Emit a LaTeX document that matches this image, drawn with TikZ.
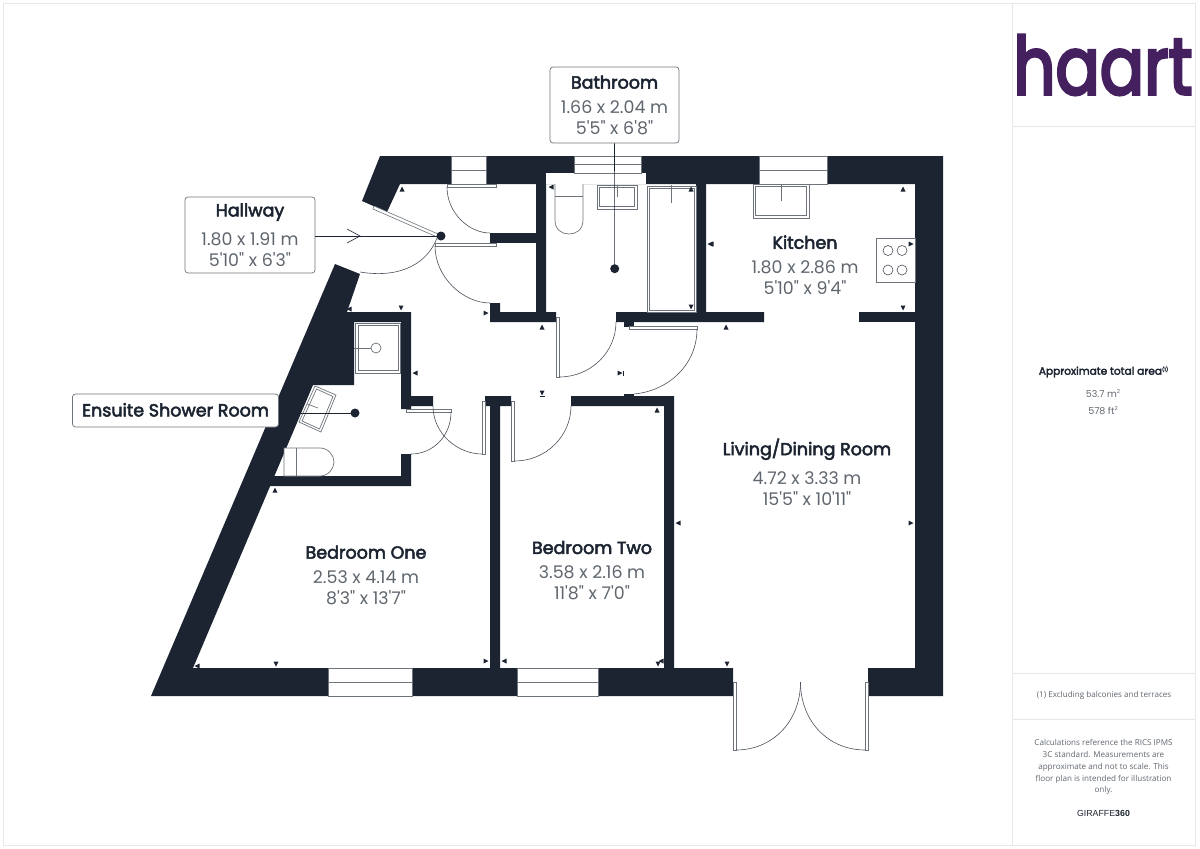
\documentclass[tikz,border=0pt]{standalone}
\usepackage{fontspec}
\usepackage{tikz}
\setmainfont{Open Sans}
\newfontfamily\titlefont{Poppins}[FakeBold=3]
\newfontfamily\sizefont{Poppins}
\newfontfamily\logofont{Poppins}[FakeBold=4]
\newfontfamily\brandfont{Liberation Sans}
\definecolor{wallcol}{HTML}{1B2430}
\definecolor{edgecol}{HTML}{6E747B}
\definecolor{sizecol}{HTML}{5F666E}
\definecolor{panelcol}{HTML}{E8E8E8}
\definecolor{logocol}{HTML}{45205F}
\tikzset{
  wall/.style={fill=wallcol},
  window/.style={fill=white,draw=edgecol,line width=.6},
  fixture/.style={fill=white,draw=edgecol,line width=.7},
  leaf/.style={fill=white,draw=edgecol,line width=.6},
  swing/.style={draw=wallcol!80,line width=.6},
  leader/.style={draw=wallcol,line width=.6},
  labelbox/.style={draw=edgecol,fill=white,rounded corners=3,line width=.7,inner sep=0,align=center},
  roomlabel/.style={align=center,inner sep=0},
  paneltext/.style={align=center,inner sep=0,text=sizecol}
}
\newcommand{\roomname}{\titlefont\fontsize{17.5}{20}\selectfont\color{wallcol}}
\newcommand{\roomsize}{\sizefont\fontsize{17.4}{20}\selectfont\color{sizecol}}
\newcommand{\roomtext}[3]{\roomname #1\\[10.5pt]\roomsize #2\\[6pt]\roomsize #3}
\begin{document}
\begin{tikzpicture}[x=1pt,y=-1pt]
\useasboundingbox (0,0) rectangle (1200,849);

% side panel
\draw[panelcol,line width=1] (3,3) rectangle (1195,845);
\draw[panelcol,line width=1] (1012,3) -- (1012,845);
\draw[panelcol,line width=1] (1012,126) -- (1195,126);
\draw[panelcol,line width=1] (1012,673) -- (1195,673);
\draw[panelcol,line width=1] (1012,719) -- (1195,719);

% walls
\fill[wall] (380,156) -- (943,156) -- (943,696) -- (868,696) -- (868,668) -- (915,668) -- (915,184) -- (400,184) -- (387,212) -- (362,201) -- cycle;
\fill[wall] (335,264) -- (360,274) -- (347,312) -- (411,312) -- (411,396) -- (433,396) -- (433,406) -- (411,406) -- (411,409) -- (401,409) -- (401,322) -- (354,322) -- (354,385) -- (313,385) -- (193,668) -- (733,668) -- (733,696) -- (151,696) -- cycle;
\fill[wall] (265,476) -- (401,476) -- (401,454) -- (411,454) -- (411,486) -- (265,486) -- cycle;
\fill[wall] (485,396) -- (511,396) -- (511,406) -- (500,406) -- (500,668) -- (490,668) -- (490,406) -- (485,406) -- cycle;
\fill[wall] (571,396) -- (674,396) -- (674,668) -- (664,668) -- (664,406) -- (571,406) -- cycle;
\fill[wall] (490,303) -- (500,303) -- (500,312) -- (536,312) -- (536,184) -- (546,184) -- (546,312) -- (556,312) -- (556,322) -- (490,322) -- cycle;
\fill[wall] (490,233) rectangle (536,243);
\fill[wall] (616,312) -- (696,312) -- (696,184) -- (706,184) -- (706,312) -- (764,312) -- (764,322) -- (616,322) -- cycle;
\fill[wall] (859,312) rectangle (915,322);
\fill[wall] (624,322) rectangle (634,327);
\fill[wall] (624,394) rectangle (634,396);
\fill[white] (546,173) rectangle (646,184);

% windows
\foreach \xa/\xb/\ya/\yb in {451/486/156/184,574/641/156/173,759/827/156/184,328/412/668/696,517/598/668/696}{
  \draw[window] (\xa,\ya) rectangle (\xb,\yb);
  \draw[window] (\xa,{(\ya+\yb)/2}) -- (\xb,{(\ya+\yb)/2});
}

% door leaves and swings
\draw[leaf] (374,206) -- (438,234) -- (437,237) -- (373,209) -- cycle;
\draw[swing] (437,238) .. controls (428,262) and (402,279) .. (360,272);
\draw[leaf] (447,184) rectangle (496,187);
\draw[swing] (447,187) .. controls (447,213) and (469,233) .. (490,233);
\draw[leaf] (435,243) rectangle (496,246);
\draw[swing] (435,246) .. controls (435,277) and (463,303) .. (490,303);
\draw[leaf] (406,409) rectangle (451,412);
\draw[swing] (451,412) .. controls (451,436) and (433,454) .. (411,454);
\draw[leaf] (482,401) rectangle (485,454);
\draw[swing] (433,406) .. controls (433,434) and (458,454) .. (482,454);
\draw[leaf] (511.5,401) rectangle (514.7,461);
\draw[swing] (514.7,461) .. controls (546,461) and (571,436) .. (571,406);
\draw[leaf] (556,317) rectangle (559,377);
\draw[swing] (559,377) .. controls (591,377) and (616,352) .. (616,322);
\draw[leaf] (629,326) rectangle (697,329);
\draw[swing] (697,329) .. controls (697,365) and (668,391) .. (634,394);
\draw[leaf] (733,682) rectangle (736,750);
\draw[swing] (736,750) .. controls (772,750) and (800.5,722) .. (800.5,682);
\draw[leaf] (865,682) rectangle (868,750);
\draw[swing] (865,750) .. controls (829,750) and (800.5,722) .. (800.5,682);

% bathroom fittings
\draw[fixture] (555,184) -- (555,220) .. controls (555,230) and (562,234) .. (569,234) .. controls (576,234) and (583,230) .. (583,220) -- (583,184);
\draw[fixture] (555,196) -- (583,196);
\draw[fixture] (597,185) rectangle (637,209);
\draw[fixture] (599.5,187.5) rectangle (634.5,206.5);
\draw[fixture] (617.5,185) -- (617.5,197);
\draw[fixture] (647,186) rectangle (696,312);
\draw[fixture] (649,188) rectangle (694,310);
\draw[fixture] (671,185) -- (671,203);

% kitchen fittings
\draw[fixture] (753,184) rectangle (809,218);
\draw[fixture] (755.5,186.5) rectangle (806.5,215.5);
\draw[fixture] (781,184) -- (781,201);
\draw[fixture] (876,238) rectangle (915,282);
\foreach \cx in {888,902}{
  \foreach \cy in {250.5,270}{
    \draw[wallcol!80,line width=.6] (\cx,\cy) circle (5);
  }
}

% ensuite fittings
\draw[fixture] (355.5,323) rectangle (400.5,373);
\draw[fixture] (358,325.5) rectangle (398,370.5);
\draw[fixture] (376,348) circle (5);
\draw[fixture] (354,348) -- (371,348);
\draw[fixture] (315,386) -- (336,395) -- (321,432) -- (299,422) -- cycle;
\draw[fixture] (316.5,389) -- (333,396.5) -- (319.5,429) -- (302,421) -- cycle;
\draw[fixture] (307,404) -- (318,408);
\draw[fixture] (284,448) -- (320,448) .. controls (328,448) and (334,455) .. (334,462) .. controls (334,469) and (328,476) .. (320,476) -- (284,476) -- cycle;
\draw[fixture] (296,448) -- (296,476);

% small dimension marks
\foreach \px/\py/\ang in {402/189/90,349/309/180,401/308/270,415/373/180,551/187/180,691/189/90,691/307/270,711/244/180,486/313/0,542/327/90,726/327/90,903/189/90,710/244/180,911/244/0,903/308/270,620/373/0,542/393/270,657/410/90,275/490/90,197/666/180,276/664/270,486/661/0,504/661/180,658/664/270,661/661/180,727/664/270,678/523/180,911/523/0}{
  \fill[wallcol,shift={(\px,\py)},rotate=\ang] (2.5,0) -- (-2.5,2.5) -- (-2.5,-2.5) -- cycle;
}
\draw[wallcol,line width=.6] (623,370.5) -- (623,375.5);
\draw[wallcol,line width=.6] (539.5,396) -- (544.5,396);

% room labels
\node[labelbox,minimum width=129,minimum height=76] (bathroom) at (614.5,105) {\roomtext{Bathroom}{1.66 x 2.04 m}{5'5" x 6'8"}};
\node[labelbox,minimum width=130,minimum height=76] (hallway) at (250,235) {\roomtext{Hallway}{1.80 x 1.91 m}{5'10" x 6'3"}};
\node[labelbox,minimum width=206,minimum height=33] (ensuite) at (175.5,410.5) {\roomname\raisebox{1.5pt}{Ensuite Shower Room}};
\node[roomlabel] (kitchen) at (805,265) {\roomtext{Kitchen}{1.80 x 2.86 m}{5'10" x 9'4"}};
\node[roomlabel] (living) at (807,472) {\roomtext{Living/Dining Room}{4.72 x 3.33 m}{15'5" x 10'11"}};
\node[roomlabel] (bedone) at (366,575) {\roomtext{Bedroom One}{2.53 x 4.14 m}{8'3" x 13'7"}};
\node[roomlabel] (bedtwo) at (592,570.5) {\roomtext{Bedroom Two}{3.58 x 2.16 m}{11'8" x 7'0"}};

% leaders
\coordinate (bathdot) at (614.7,268.7);
\coordinate (halldot) at (441,236);
\coordinate (ensuitedot) at (355,413);
\draw[leader] (bathroom.south) -- (bathdot);
\draw[leader] (hallway.east |- halldot) -- (halldot);
\draw[leader] (ensuite.east |- ensuitedot) -- (ensuitedot);
\draw[leader] (347,229) -- (360,236) -- (347,243);
\fill[wallcol] (bathdot) circle (4.5);
\fill[wallcol] (halldot) circle (4.5);
\fill[wallcol] (ensuitedot) circle (4.5);

% logo and notes
\node[inner sep=0,text=logocol,xscale=.82] (logo) at (1103,65) {\logofont\fontsize{80}{88}\selectfont haart};
\node[paneltext] (areatitle) at (1103.5,372) {\titlefont\fontsize{10.6}{12}\selectfont\color{wallcol}Approximate total area\raisebox{3.5pt}{\fontsize{5}{6}\selectfont(1)}};
\node[paneltext,font=\sizefont\fontsize{9.5}{17}\selectfont] (areasizes) at (1103,402) {53.7 m\raisebox{3.5pt}{\fontsize{5.5}{6}\selectfont 2}\\578 ft\raisebox{3.5pt}{\fontsize{5.5}{6}\selectfont 2}};
\node[paneltext,font=\fontsize{8.1}{12}\selectfont] (excl) at (1104,695.5) {(1) Excluding balconies and terraces};
\node[paneltext,font=\fontsize{8.1}{11.9}\selectfont] (calc) at (1103.5,767) {Calculations reference the RICS IPMS\\3C standard. Measurements are\\approximate and not to scale. This\\floor plan is intended for illustration\\only.};
\node[paneltext] (brand) at (1103.5,813.5) {\brandfont\fontsize{8.8}{11}\selectfont\color{wallcol}GIRAFFE\textbf{360}};
\end{tikzpicture}
\end{document}
